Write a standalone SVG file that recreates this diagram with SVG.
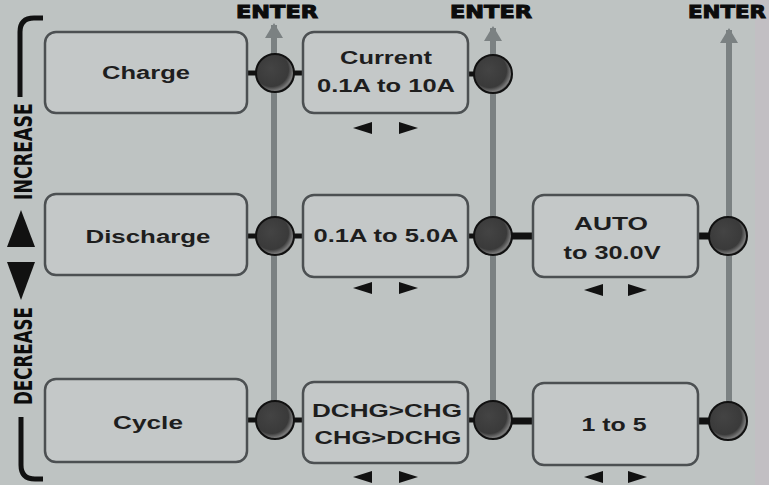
<svg xmlns="http://www.w3.org/2000/svg" width="769" height="485" viewBox="0 0 769 485">
<defs>
<style>
.box{fill:#c4c8c8;stroke:#4c5052;stroke-width:2.5}
.lbl{font-family:"Liberation Sans",Arial,sans-serif;font-weight:bold;font-size:18px;fill:#1e1e1e;text-anchor:middle}
.side{font-family:"Liberation Sans Narrow","DejaVu Sans Condensed","Liberation Sans",sans-serif;font-weight:bold;font-size:25px;fill:#0c0c0c;text-anchor:middle}
.enter{font-family:"Liberation Sans Narrow","DejaVu Sans Condensed","Liberation Sans",sans-serif;font-weight:bold;font-size:18px;fill:#0c0c0c;text-anchor:middle;stroke:#0c0c0c;stroke-width:0.9}
.vline{stroke:#7b8182;stroke-width:6;fill:none}
.stub{stroke:#111;stroke-width:5}
.knob{fill:url(#kg);stroke:#111;stroke-width:2}
.tri{fill:#111}
.brk{stroke:#111;stroke-width:5;fill:none}
</style>
<radialGradient id="kg" cx="0.42" cy="0.42" r="0.62" fx="0.38" fy="0.38">
<stop offset="0" stop-color="#444"/>
<stop offset="0.72" stop-color="#3a3a3a"/>
<stop offset="0.9" stop-color="#7a7a7a"/>
<stop offset="1" stop-color="#3a3a3a"/>
</radialGradient>
<marker id="ah" markerWidth="16" markerHeight="20" refX="13" refY="10" orient="auto" markerUnits="userSpaceOnUse" viewBox="0 0 16 20">
<path d="M0,1 L15,10 L0,19 Z" fill="#7b8182"/>
</marker>
</defs>
<rect width="769" height="485" fill="#bec3c2"/>
<rect x="755" y="0" width="14" height="485" fill="#c2bfc3"/>

<g id="side-labels">
<path class="brk" d="M20,97 V32 Q20,18 34,18 H43"/>
<path class="brk" d="M21,417 V465 Q21,479 35,479 H43"/>
<text class="side" transform="translate(32,151.5) rotate(-90)" textLength="97" lengthAdjust="spacingAndGlyphs">INCREASE</text>
<polygon class="tri" points="21,210 35,247 7,247"/>
<polygon class="tri" points="7,262 35,262 21,300"/>
<text class="side" transform="translate(32,356) rotate(-90)" textLength="98" lengthAdjust="spacingAndGlyphs">DECREASE</text>
</g>

<g id="enter-labels">
<text class="enter" x="277" y="18" textLength="82" lengthAdjust="spacingAndGlyphs">ENTER</text>
<text class="enter" x="491" y="18" textLength="82" lengthAdjust="spacingAndGlyphs">ENTER</text>
<text class="enter" x="727" y="18" textLength="78" lengthAdjust="spacingAndGlyphs">ENTER</text>
</g>

<g id="connectors">
<line class="vline" x1="274" y1="420" x2="274" y2="25" marker-end="url(#ah)"/>
<line class="vline" x1="493" y1="420" x2="493" y2="28" marker-end="url(#ah)"/>
<line class="vline" x1="729" y1="420" x2="729" y2="30" marker-end="url(#ah)"/>
<line class="stub" x1="247" y1="73" x2="258" y2="73"/>
<line class="stub" x1="292" y1="73" x2="303" y2="73"/>
<line class="stub" x1="468" y1="74" x2="476" y2="74"/>
<line class="stub" x1="247" y1="236" x2="258" y2="236"/>
<line class="stub" x1="292" y1="236" x2="303" y2="236"/>
<line class="stub" x1="468" y1="236" x2="476" y2="236"/>
<line class="stub" x1="510" y1="236" x2="533" y2="236" style="stroke-width:7"/>
<line class="stub" x1="698" y1="236" x2="711" y2="236" style="stroke-width:7"/>
<line class="stub" x1="247" y1="420" x2="258" y2="420"/>
<line class="stub" x1="292" y1="420" x2="303" y2="420"/>
<line class="stub" x1="468" y1="420" x2="476" y2="420"/>
<line class="stub" x1="510" y1="421" x2="533" y2="421" style="stroke-width:7"/>
<line class="stub" x1="698" y1="421" x2="711" y2="421" style="stroke-width:7"/>
</g>

<g id="knobs">
<circle class="knob" cx="275" cy="73" r="19"/>
<circle class="knob" cx="493" cy="74" r="19"/>
<circle class="knob" cx="275" cy="236" r="19"/>
<circle class="knob" cx="493" cy="236" r="19"/>
<circle class="knob" cx="728" cy="236" r="19"/>
<circle class="knob" cx="275" cy="420" r="19"/>
<circle class="knob" cx="493" cy="420" r="19"/>
<circle class="knob" cx="728" cy="421" r="19"/>
</g>

<g id="charge">
<rect class="box" x="45" y="32" width="202" height="81" rx="11"/>
<text class="lbl" x="146" y="79" textLength="88" lengthAdjust="spacingAndGlyphs">Charge</text>
</g>
<g id="discharge">
<rect class="box" x="45" y="194" width="202" height="81" rx="11"/>
<text class="lbl" x="148" y="243" textLength="125" lengthAdjust="spacingAndGlyphs">Discharge</text>
</g>
<g id="cycle">
<rect class="box" x="45" y="379" width="202" height="83" rx="11"/>
<text class="lbl" x="148" y="429" textLength="70" lengthAdjust="spacingAndGlyphs">Cycle</text>
</g>

<g id="current">
<rect class="box" x="303" y="32" width="165" height="81" rx="11"/>
<text class="lbl" x="386" y="64" textLength="92" lengthAdjust="spacingAndGlyphs">Current</text>
<text class="lbl" x="386" y="92" textLength="138" lengthAdjust="spacingAndGlyphs">0.1A to 10A</text>
<polygon class="tri" points="353,128 372,122 372,134"/>
<polygon class="tri" points="418,128 399,122 399,134"/>
</g>
<g id="discharge-current">
<rect class="box" x="303" y="195" width="165" height="82" rx="11"/>
<text class="lbl" x="386" y="242" textLength="145" lengthAdjust="spacingAndGlyphs">0.1A to 5.0A</text>
<polygon class="tri" points="353,288 372,282 372,294"/>
<polygon class="tri" points="418,288 399,282 399,294"/>
</g>
<g id="cycle-mode">
<rect class="box" x="303" y="382" width="165" height="81" rx="11"/>
<text class="lbl" x="387" y="417" textLength="150" lengthAdjust="spacingAndGlyphs">DCHG&gt;CHG</text>
<text class="lbl" x="388" y="444" textLength="147" lengthAdjust="spacingAndGlyphs">CHG&gt;DCHG</text>
<polygon class="tri" points="353,477 372,471 372,483"/>
<polygon class="tri" points="418,477 399,471 399,483"/>
</g>
<g id="cutoff-voltage">
<rect class="box" x="533" y="195" width="165" height="82" rx="11"/>
<text class="lbl" x="611" y="230" textLength="74" lengthAdjust="spacingAndGlyphs">AUTO</text>
<text class="lbl" x="612" y="259" textLength="97" lengthAdjust="spacingAndGlyphs">to 30.0V</text>
<polygon class="tri" points="584,290 603,284 603,296"/>
<polygon class="tri" points="647,290 628,284 628,296"/>
</g>
<g id="cycle-count">
<rect class="box" x="533" y="383" width="165" height="82" rx="11"/>
<text class="lbl" x="614" y="431" textLength="65" lengthAdjust="spacingAndGlyphs">1 to 5</text>
<polygon class="tri" points="584,477 603,471 603,483"/>
<polygon class="tri" points="647,477 628,471 628,483"/>
</g>
</svg>
